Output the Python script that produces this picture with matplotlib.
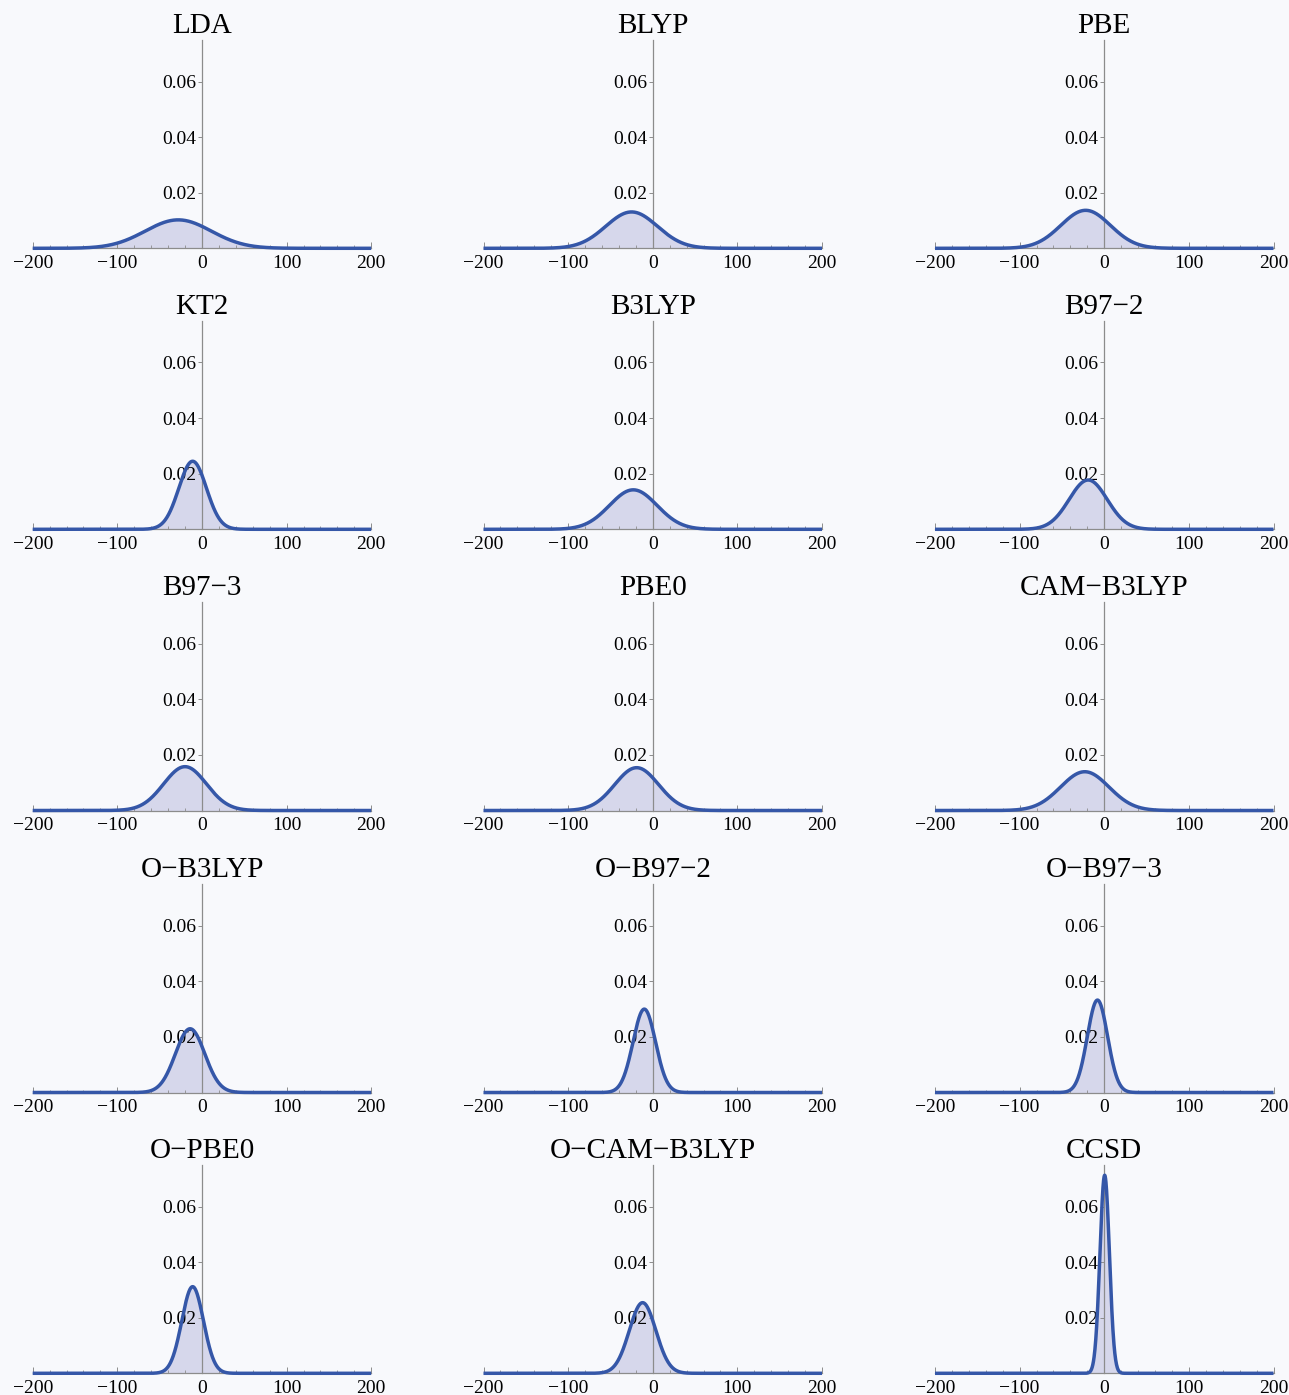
import numpy as np
import matplotlib
matplotlib.use("Agg")
import matplotlib.pyplot as plt
from matplotlib.ticker import MultipleLocator, FixedLocator

plt.rcParams['font.family'] = ['Liberation Serif', 'DejaVu Serif']

# error distributions per functional: mean and standard deviation
methods = ["LDA", "BLYP", "PBE",
           "KT2", "B3LYP", "B97\u22122",
           "B97\u22123", "PBE0", "CAM\u2212B3LYP",
           "O\u2212B3LYP", "O\u2212B97\u22122", "O\u2212B97\u22123",
           "O\u2212PBE0", "O\u2212CAM\u2212B3LYP", "CCSD"]
means = [-28, -25, -22,
         -11, -23, -19,
         -20, -19, -23,
         -14, -10, -8,
         -11, -12, 0.5]
sdevs = [39.0, 30.5, 29.2,
         16.3, 28.1, 22.5,
         25.3, 25.9, 28.6,
         17.4, 13.3, 12.0,
         12.8, 15.7, 5.6]

xticks = [-200, -100, 0, 100, 200]
yticks = [0.02, 0.04, 0.06]

bg = "#f8f9fc"
line_col = "#3557a8"
fill_col = "#d6d7eb"
axis_col = "#8c8c8c"

W, H = 1289, 1395
fig = plt.figure(figsize=(W / 100, H / 100), dpi=100, facecolor=bg)

lefts = [32.7, 483.5, 935.0]
width = 338.5
baselines = [248.3, 529.3, 810.5, 1092.5, 1373.3]
height = 208.5

x = np.linspace(-200, 200, 1601)

for i, name in enumerate(methods):
    r, c = divmod(i, 3)
    ax = fig.add_axes([lefts[c] / W, 1 - baselines[r] / H, width / W, height / H])
    ax.set_facecolor("none")
    mu, sd = means[i], sdevs[i]
    y = np.exp(-0.5 * ((x - mu) / sd) ** 2) / (sd * np.sqrt(2 * np.pi))
    ax.fill_between(x, 0, y, color=fill_col, lw=0, zorder=1)
    ax.plot(x, y, color=line_col, lw=2.5, zorder=3, clip_on=False,
            solid_capstyle='butt')

    ax.set_xlim(-200, 200)
    ax.set_ylim(0, 0.075)
    for s in ["top", "right"]:
        ax.spines[s].set_visible(False)
    ax.spines["left"].set_position(("data", 0))
    ax.spines["left"].set_color(axis_col)
    ax.spines["left"].set_linewidth(0.9)
    ax.spines["left"].set_zorder(2)
    ax.spines["bottom"].set_color(axis_col)
    ax.spines["bottom"].set_linewidth(0.9)

    ax.xaxis.set_major_locator(FixedLocator(xticks))
    ax.xaxis.set_minor_locator(MultipleLocator(20))
    ax.yaxis.set_major_locator(FixedLocator(yticks))
    ax.set_yticklabels(["0.02", "0.04", "0.06"])
    ax.tick_params(axis="x", which="major", direction="in", length=4,
                   width=0.7, color=axis_col, labelsize=14, pad=5)
    ax.tick_params(axis="x", which="minor", direction="in", length=2.5,
                   width=0.6, color=axis_col)
    ax.tick_params(axis="y", which="major", direction="out", length=3,
                   width=0.7, color=axis_col, labelsize=14, pad=1)

    ax.set_title(name, fontsize=21, pad=5, y=1.0)

fig.savefig("out.png", dpi=100, facecolor=bg)
